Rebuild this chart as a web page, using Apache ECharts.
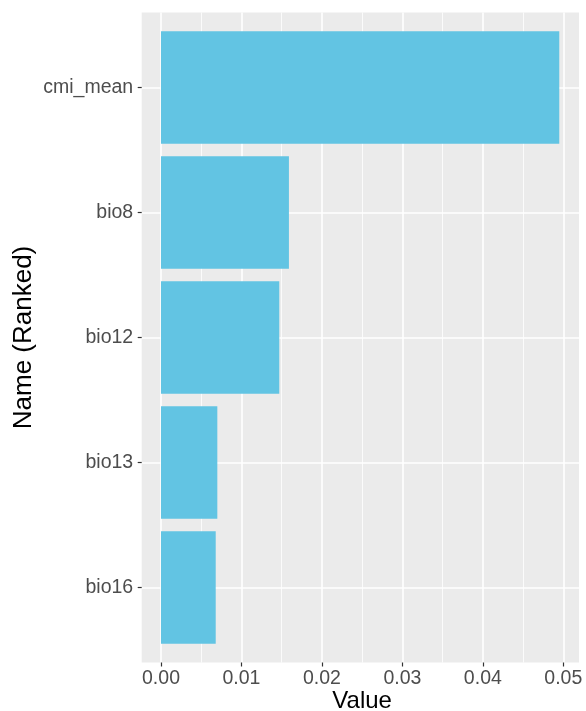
<!DOCTYPE html>
<html>
<head>
<meta charset="utf-8">
<script src="https://cdn.jsdelivr.net/npm/echarts@6/dist/echarts.min.js"></script>
<style>html,body{margin:0;padding:0;background:#fff}#c{width:586px;height:711px}</style>
</head>
<body>
<div id="c"></div>
<script>
const names = ['cmi_mean', 'bio8', 'bio12', 'bio13', 'bio16'];
const values = [0.0495, 0.0159, 0.0147, 0.0070, 0.0068];
const positions = [1, 2, 3, 4, 5];
const xMin = 0, xMax = 0.05, xStep = 0.01;
const xTitle = 'Value';
const yTitle = 'Name (Ranked)';

const font = 'Liberation Sans, Arial, sans-serif';
const chart = echarts.init(document.getElementById('c'));
const g = { outerBoundsMode: 'none', containLabel: false, z: 0 };
chart.setOption({
  backgroundColor: '#ffffff',
  animation: false,
  grid: [
    Object.assign({ left: 141.7, top: 12.5, width: 437.3, height: 650, show: true, backgroundColor: '#EBEBEB', borderWidth: 0 }, g),
    Object.assign({ left: 161, top: 12.5, width: 402.3, height: 650 }, g),
    Object.assign({ left: 141.7, top: 87.5, width: 437.3, height: 500 }, g),
    Object.assign({ left: 161, top: 25, width: 402.3, height: 625 }, g)
  ],
  xAxis: [
    { gridIndex: 0, type: 'value', show: false },
    { gridIndex: 1, type: 'value', min: xMin, max: xMax, interval: xStep, z: 1,
      axisLine: { show: false },
      axisTick: { show: true, length: 4, lineStyle: { color: '#333333', width: 1.2 } },
      axisLabel: { color: '#4D4D4D', fontSize: 19.5, fontFamily: font, margin: 6,
        formatter: v => v.toFixed(2) },
      splitLine: { show: true, lineStyle: { color: '#FFFFFF', width: 1.6 } },
      minorTick: { show: false, splitNumber: 2 },
      minorSplitLine: { show: true, lineStyle: { color: '#FFFFFF', width: 0.8 } },
      name: xTitle, nameLocation: 'middle', nameGap: 39, nameMoveOverlap: false,
      nameTextStyle: { color: '#000000', fontSize: 24, fontFamily: font, verticalAlign: 'middle' }
    },
    { gridIndex: 2, type: 'value', show: false },
    { gridIndex: 3, type: 'value', min: xMin, max: xMax, show: false }
  ],
  yAxis: [
    { gridIndex: 0, type: 'value', show: false },
    { gridIndex: 1, type: 'value', show: false },
    { gridIndex: 2, type: 'value', min: 1, max: 5, interval: 1, inverse: true, z: 1,
      axisLine: { show: false },
      axisTick: { show: true, length: 4, lineStyle: { color: '#333333', width: 1.2 } },
      axisLabel: { color: '#4D4D4D', fontSize: 19.5, fontFamily: font, margin: 8.5,
        formatter: v => names[positions.indexOf(v)] || '' },
      splitLine: { show: true, lineStyle: { color: '#FFFFFF', width: 1.6 } },
      name: yTitle, nameLocation: 'middle', nameGap: 118, nameRotate: 90, nameMoveOverlap: false,
      nameTextStyle: { color: '#000000', fontSize: 26, fontFamily: font, verticalAlign: 'middle' }
    },
    { gridIndex: 3, type: 'category', data: names, inverse: true, show: false }
  ],
  series: [{
    type: 'bar',
    xAxisIndex: 3, yAxisIndex: 3,
    data: values,
    barCategoryGap: '10%',
    itemStyle: { color: '#62C4E3' },
    z: 5
  }]
});
</script>
</body>
</html>
